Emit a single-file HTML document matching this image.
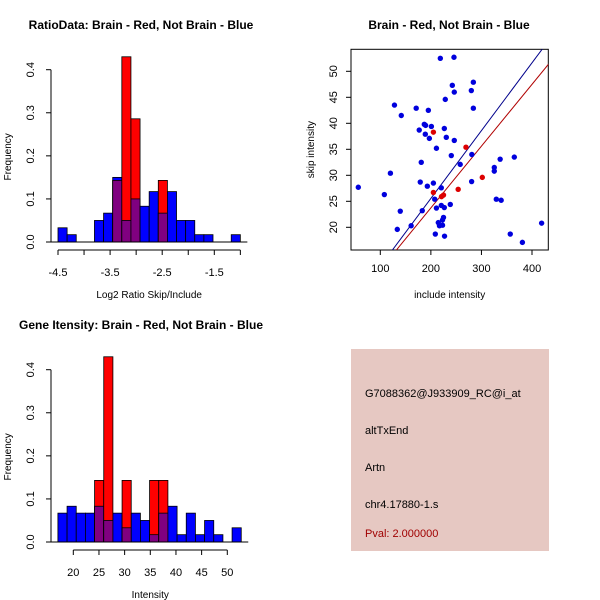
<!DOCTYPE html>
<html><head><meta charset="utf-8"><style>
html,body{margin:0;padding:0;background:#fff}
svg{display:block;font-family:"Liberation Sans",Arial,sans-serif}
</style></head><body>
<svg id="c" width="600" height="600" viewBox="0 0 600 600">
<rect width="600" height="600" fill="#fff"/>
<text x="141" y="29" font-size="12" font-weight="bold" text-anchor="middle">RatioData: Brain - Red, Not Brain - Blue</text>
<text x="449" y="29" font-size="12" font-weight="bold" text-anchor="middle">Brain - Red, Not Brain - Blue</text>
<text x="141" y="329" font-size="12" font-weight="bold" text-anchor="middle">Gene Itensity: Brain - Red, Not Brain - Blue</text>
<rect x="351" y="349" width="198" height="202" fill="#e6c8c2"/>
<g font-size="11">
<text x="365" y="397">G7088362@J933909_RC@i_at</text>
<text x="365" y="434">altTxEnd</text>
<text x="365" y="471">Artn</text>
<text x="365" y="508">chr4.17880-1.s</text>
<text x="365" y="537" fill="#a00000">Pval: 2.000000</text>
</g>
</svg>
<script>
// Ratio histogram data
const ratioBinStart = -4.5;
const ratioBinWidth = 0.175;
const ratioBlue = [0.033,0.017,0,0,0.05,0.067,0.15,0.05,0.1,0.083,0.117,0.067,0.117,0.05,0.05,0.017,0.017,0,0,0.017];
const ratioRed  = [0,0,0,0,0,0,0.143,0.43,0.286,0,0,0.143,0,0,0,0,0,0,0,0];
const ratioXTicks = [-4.5,-4,-3.5,-3,-2.5,-2,-1.5,-1];
const ratioXLabels = ["-4.5","","-3.5","","-2.5","","-1.5",""];
// Intensity histogram data
const intBinStart = 17.0;
const intBinWidth = 1.786;
const intBlue = [0.067,0.083,0.067,0.067,0.083,0.05,0.067,0.033,0.067,0.05,0.017,0.067,0.083,0.017,0.067,0.017,0.05,0.017,0,0.033];
const intRed  = [0,0,0,0,0.143,0.43,0,0.143,0,0,0.143,0.143,0,0,0,0,0,0,0,0];
const intXTicks = [20,25,30,35,40,45,50];
const freqTicks = [0,0.1,0.2,0.3,0.4];
const freqLabels = ["0.0","0.1","0.2","0.3","0.4"];
// Scatter data
const blueInclude = [56.5,108,120,128,141.5,139.5,133.6,161,171,177,181,179,183,187,189.6,189,195,197,201,193,205,211,207.6,208.8,211,218.7,214.7,217,220.6,220.6,223,223,225,226.6,226.6,227,228.5,230.5,238.4,240.4,242.4,245.7,246.3,246.3,258,280,280.6,281,284,284,325.4,325.4,329.4,337,339,365,357,381,419];
const blueSkip = [27.7,26.3,30.4,43.5,41.5,23.1,19.6,20.3,42.9,38.7,32.5,28.7,23.2,39.8,39.6,37.9,42.5,37.1,39.4,27.9,28.5,35.2,25.4,18.7,23.7,52.5,20.9,20.3,24.2,27.6,20.4,21.4,21.9,39.0,23.8,18.3,44.6,37.3,24.4,33.8,47.3,52.7,46.0,36.7,32.1,46.3,28.8,34.0,47.9,42.9,31.5,30.8,25.4,33.1,25.2,33.5,18.7,17.1,20.8];
const redInclude = [205,269.4,301.7,254,205,221,225];
const redSkip = [38.3,35.4,29.6,27.3,26.7,25.9,26.2];
const blueFit = [-0.53,0.1304]; // intercept, slope
const redFit = [-0.03,0.1188];
const scXTicks = [100,200,300,400];
const scYTicks = [20,25,30,35,40,45,50];

const svg = document.getElementById('c');
const NS = 'http://www.w3.org/2000/svg';
function mk(tag, attrs, parent){const e=document.createElementNS(NS,tag);for(const k in attrs)e.setAttribute(k,attrs[k]);(parent||svg).appendChild(e);return e;}
function txt(x,y,s,attrs,parent){const e=mk('text',Object.assign({x:x,y:y,'font-size':11},attrs||{}),parent);e.textContent=s;return e;}

function histogram(name, binStart, binW, blue, red, xTicks, xLabels, xmap, y0, y04, xTitle){
  const g = mk('g',{});
  
  
  const ymap = v => y0 + (y04 - y0) * v / 0.4;
  for(let i=0;i<blue.length;i++){
    const xa = xmap(binStart+i*binW), xb = xmap(binStart+(i+1)*binW);
    const b = blue[i], r = red[i], m = Math.min(b,r);
    if(b>0){const e=mk('rect',{x:xa,y:ymap(b),width:xb-xa,height:ymap(0)-ymap(b),fill:'#0000ff',stroke:'#000','stroke-width':0.8},g);
      
      }
    if(r>0){const e=mk('rect',{x:xa,y:ymap(r),width:xb-xa,height:ymap(0)-ymap(r),fill:'#ff0000',stroke:'#000','stroke-width':0.8},g);
      
      }
    if(m>0){const e=mk('rect',{x:xa,y:ymap(m),width:xb-xa,height:ymap(0)-ymap(m),fill:'#800080',stroke:'#000','stroke-width':0.8},g);
      
      }
  }
  mk('line',{x1:xmap(binStart)-10,x2:xmap(binStart+blue.length*binW)+7,y1:y0,y2:y0,stroke:'#000'},g);
  const ax=51;
  mk('line',{x1:ax,x2:ax,y1:ymap(0),y2:ymap(0.4),stroke:'#000'},g);
  freqTicks.forEach((t,i)=>{const y=ymap(t);mk('line',{x1:ax-5,x2:ax,y1:y,y2:y,stroke:'#000'},g);
    const e=txt(0,0,freqLabels[i],{'text-anchor':'middle',transform:`translate(${ax-17},${y}) rotate(-90)`},g);
    
    });
  const yt=txt(0,0,'Frequency',{'font-size':10,'text-anchor':'middle',transform:`translate(11,${(ymap(0)+ymap(0.4))/2+1}) rotate(-90)`},g);
  
  
  const xy=y0+8;
  mk('line',{x1:xmap(xTicks[0]),x2:xmap(xTicks[xTicks.length-1]),y1:xy,y2:xy,stroke:'#000'},g);
  xTicks.forEach((t,i)=>{const x=xmap(t);mk('line',{x1:x,x2:x,y1:xy,y2:xy+5,stroke:'#000'},g);
    const lab = xLabels?xLabels[i]:String(t);
    if(lab){const e=txt(x,xy+26,lab,{'text-anchor':'middle'},g);
      
      }});
  const xt=txt(xmap((xTicks[0]+xTicks[xTicks.length-1])/2),y0+56,xTitle,{'font-size':10,'text-anchor':'middle'},g);
  
  
}
histogram('ratio-histogram', ratioBinStart, ratioBinWidth, ratioBlue, ratioRed, ratioXTicks, ratioXLabels, v=>58+(v+4.5)*52.1, 242, 69.7, 'Log2 Ratio Skip/Include');
histogram('intensity-histogram', intBinStart, intBinWidth, intBlue, intRed, intXTicks, null, v=>73.3+(v-20)*5.133, 542, 369.7, 'Intensity');
(function(){
  const g=mk('g',{});
  
  
  const L=351,R=548.3,T=49.3,B=250;
  const xm=v=>380.3+(v-100)*0.5057, ym=v=>227.3-(v-20)*5.2;
  const cp=mk('clipPath',{id:'scclip'},g);mk('rect',{x:L,y:T,width:R-L,height:B-T},cp);
  mk('rect',{x:L,y:T,width:R-L,height:B-T,fill:'none',stroke:'#000'},g);
  scXTicks.forEach(t=>{const x=xm(t);mk('line',{x1:x,x2:x,y1:B,y2:B+5,stroke:'#000'},g);
    const e=txt(x,B+22,String(t),{'text-anchor':'middle'},g);
    
    });
  scYTicks.forEach(t=>{const y=ym(t);mk('line',{x1:L-5,x2:L,y1:y,y2:y,stroke:'#000'},g);
    const e=txt(0,0,String(t),{'text-anchor':'middle',transform:`translate(${L-14},${y}) rotate(-90)`},g);
    
    });
  const xt=txt((L+R)/2,B+48,'include intensity',{'font-size':10,'text-anchor':'middle'},g);
  
  
  const yt=txt(0,0,'skip intensity',{'font-size':10,'text-anchor':'middle',transform:`translate(314,${(T+B)/2}) rotate(-90)`},g);
  
  
  const pg=mk('g',{'clip-path':'url(#scclip)'},g);
  [[blueFit,'#00008b','blue-fit-line'],[redFit,'#b00000','red-fit-line']].forEach(([f,c,n])=>{
    const e=mk('line',{x1:xm(0),y1:ym(f[0]),x2:xm(500),y2:ym(f[0]+f[1]*500),stroke:c,'stroke-width':1},pg);
    
    });
  blueInclude.forEach((v,i)=>{const e=mk('circle',{cx:xm(v),cy:ym(blueSkip[i]),r:2.7,fill:'#0000dd'},pg);
    
    });
  redInclude.forEach((v,i)=>{const e=mk('circle',{cx:xm(v),cy:ym(redSkip[i]),r:2.7,fill:'#dd0000'},pg);
    
    });
})();
</script>
</body></html>
